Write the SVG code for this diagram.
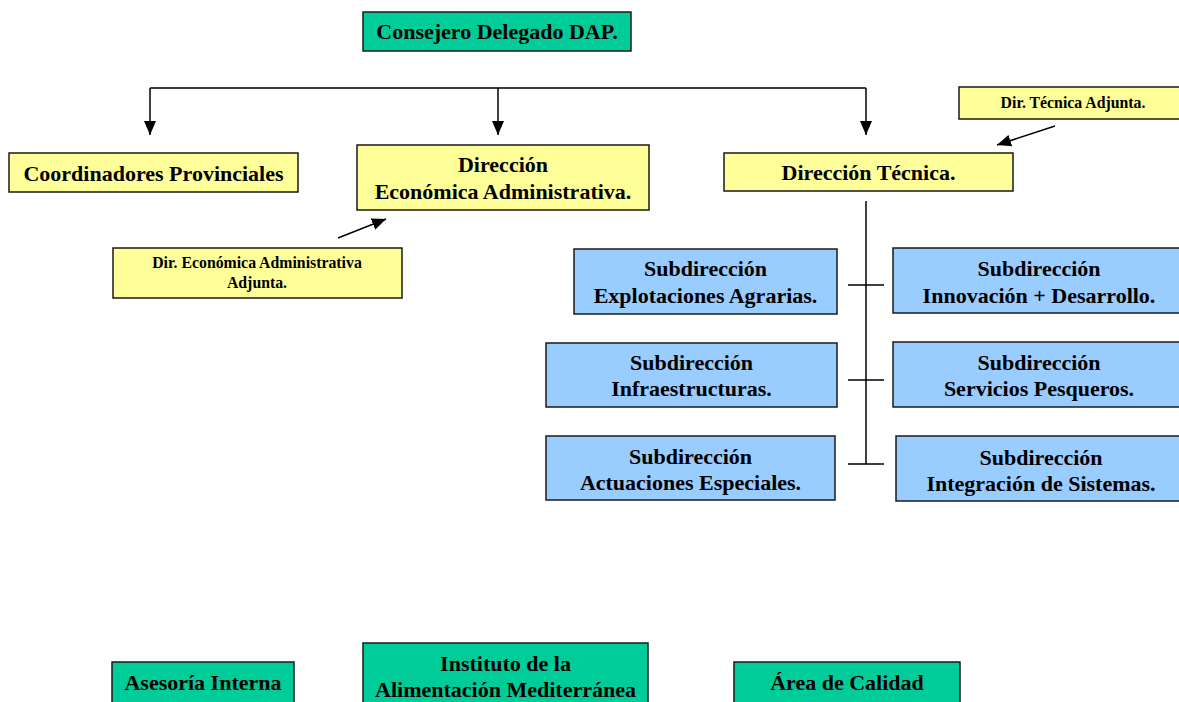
<svg xmlns="http://www.w3.org/2000/svg" width="1179" height="702" viewBox="0 0 1179 702">
  <style>
    .box { stroke: #1a1a1a; stroke-width: 1.5; }
    .yellow { fill: #FFFF99; }
    .blue { fill: #99CCFF; }
    .green { fill: #00CC99; }
    .t { font-family: "Liberation Serif", "Times New Roman", serif; font-weight: bold; font-size: 22px; fill: #000; text-anchor: middle; }
    .s { font-size: 15.8px; }
    .line { stroke: #000; stroke-width: 1.5; fill: none; }
  </style>
  <defs>
    <marker id="arrowBig" viewBox="0 0 10 10" refX="10" refY="5" markerWidth="14" markerHeight="12" markerUnits="userSpaceOnUse" orient="auto" preserveAspectRatio="none">
      <path d="M0,0 L10,5 L0,10 z" fill="#000"/>
    </marker>
  </defs>

  <!-- connectors -->
  <g id="connectors">
    <path class="line" d="M150,88 H866"/>
    <path class="line" d="M150,88 V135" marker-end="url(#arrowBig)"/>
    <path class="line" d="M498,88 V135" marker-end="url(#arrowBig)"/>
    <path class="line" d="M866,88 V135" marker-end="url(#arrowBig)"/>
    <path class="line" d="M1055,126 L997,145" marker-end="url(#arrowBig)"/>
    <path class="line" d="M338,238 L386,219" marker-end="url(#arrowBig)"/>
    <path class="line" d="M866,201 V464"/>
    <path class="line" d="M848,285 H884"/>
    <path class="line" d="M848,380 H884"/>
    <path class="line" d="M848,464 H884"/>
  </g>

  <g id="consejero">
    <rect class="box green" x="363" y="12" width="268" height="39"/>
    <text class="t" x="497" y="39">Consejero Delegado DAP.</text>
  </g>

  <g id="coordinadores">
    <rect class="box yellow" x="9" y="153" width="289" height="39"/>
    <text class="t" x="153.5" y="181">Coordinadores Provinciales</text>
  </g>

  <g id="direccion-economica">
    <rect class="box yellow" x="357" y="145" width="292" height="65"/>
    <text class="t" x="503" y="172">Dirección</text>
    <text class="t" x="503" y="199">Económica Administrativa.</text>
  </g>

  <g id="direccion-tecnica">
    <rect class="box yellow" x="724" y="153" width="289" height="38"/>
    <text class="t" x="868.5" y="180">Dirección Técnica.</text>
  </g>

  <g id="dir-tecnica-adjunta">
    <rect class="box yellow" x="959" y="87" width="228" height="32"/>
    <text class="t s" x="1073" y="108">Dir. Técnica Adjunta.</text>
  </g>

  <g id="dir-economica-adjunta">
    <rect class="box yellow" x="113" y="248" width="289" height="50"/>
    <text class="t s" x="257" y="268">Dir. Económica Administrativa</text>
    <text class="t s" x="257" y="288">Adjunta.</text>
  </g>

  <g id="sub-explotaciones">
    <rect class="box blue" x="574" y="249" width="263" height="65"/>
    <text class="t" x="705.5" y="276">Subdirección</text>
    <text class="t" x="705.5" y="303">Explotaciones Agrarias.</text>
  </g>

  <g id="sub-innovacion">
    <rect class="box blue" x="893" y="248" width="294" height="65"/>
    <text class="t" x="1039" y="276">Subdirección</text>
    <text class="t" x="1039" y="303">Innovación + Desarrollo.</text>
  </g>

  <g id="sub-infraestructuras">
    <rect class="box blue" x="546" y="343" width="291" height="64"/>
    <text class="t" x="691.5" y="370">Subdirección</text>
    <text class="t" x="691.5" y="396">Infraestructuras.</text>
  </g>

  <g id="sub-pesqueros">
    <rect class="box blue" x="893" y="342" width="294" height="65"/>
    <text class="t" x="1039" y="370">Subdirección</text>
    <text class="t" x="1039" y="396">Servicios Pesqueros.</text>
  </g>

  <g id="sub-actuaciones">
    <rect class="box blue" x="546" y="436" width="289" height="64"/>
    <text class="t" x="690.5" y="464">Subdirección</text>
    <text class="t" x="690.5" y="490">Actuaciones Especiales.</text>
  </g>

  <g id="sub-integracion">
    <rect class="box blue" x="896" y="436" width="292" height="65"/>
    <text class="t" x="1041" y="465">Subdirección</text>
    <text class="t" x="1041" y="491">Integración de Sistemas.</text>
  </g>

  <g id="asesoria">
    <rect class="box green" x="112" y="662" width="182" height="42"/>
    <text class="t" x="203" y="690">Asesoría Interna</text>
  </g>

  <g id="instituto">
    <rect class="box green" x="363" y="643" width="285" height="61"/>
    <text class="t" x="505.5" y="671">Instituto de la</text>
    <text class="t" x="505.5" y="697">Alimentación Mediterránea</text>
  </g>

  <g id="calidad">
    <rect class="box green" x="734" y="662" width="226" height="42"/>
    <text class="t" x="847" y="690">Área de Calidad</text>
  </g>
</svg>
